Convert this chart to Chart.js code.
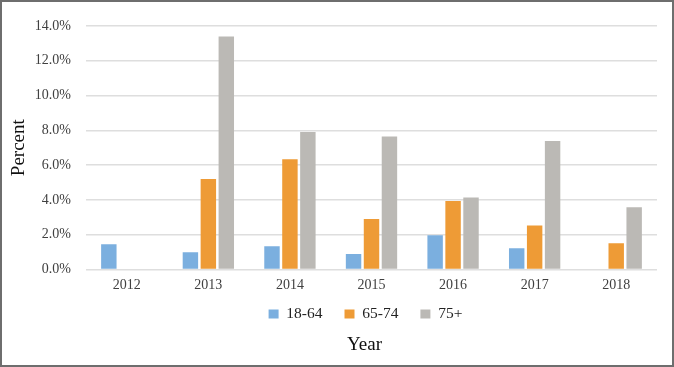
<!DOCTYPE html>
<html>
<head>
<meta charset="utf-8">
<script src="https://cdn.jsdelivr.net/npm/chart.js@4/dist/chart.umd.min.js"></script>
<style>
    body { margin: 0; background: #fff; }
    #frame {
        position: absolute; left: 0; top: 0;
        width: 674px; height: 367px;
        box-sizing: border-box;
        border: 2px solid #6e6e6e;
        background: #fff;
    }
</style>
</head>
<body>
<div id="frame"><canvas id="chart"></canvas></div>
<script>
const years = ['2012', '2013', '2014', '2015', '2016', '2017', '2018'];
const ages18to64 = [1.45, 0.99, 1.33, 0.89, 1.97, 1.22, 0];
const ages65to74 = [0, 5.2, 6.33, 2.9, 3.94, 2.53, 1.5];
const ages75plus = [0, 13.4, 7.9, 7.65, 4.13, 7.38, 3.58];
const yTicks = [0, 2, 4, 6, 8, 10, 12, 14];

const serif = "'Liberation Serif', 'Times New Roman', serif";

// legend padding is both the gap between items and above them;
// pull the legend up a bit so it sits closer to the year labels,
// and shift legend + "Year" slightly left like in the original
const legendNudge = {
    id: 'legendNudge',
    afterLayout(chart) {
        chart.legend.top -= 18;
        chart.legend.left -= 12;
        if (chart.titleBlock) chart.titleBlock.left -= 14;
    }
};

document.addEventListener('DOMContentLoaded', function() {
    const ctx = document.getElementById('chart').getContext('2d');

    new Chart(ctx, {
        type: 'bar',
        data: {
            labels: years,
            datasets: [
                { label: '18-64', data: ages18to64, backgroundColor: '#7bafdf' },
                { label: '65-74', data: ages65to74, backgroundColor: '#ee9b36' },
                { label: '75+', data: ages75plus, backgroundColor: '#bbb9b5' }
            ]
        },
        plugins: [legendNudge],
        options: {
            responsive: true,
            maintainAspectRatio: false,
            animation: false,
            datasets: {
                bar: { categoryPercentage: 0.66, barPercentage: 0.86 }
            },
            layout: {
                padding: { left: 6, right: 15, top: 24, bottom: 9 }
            },
            plugins: {
                tooltip: { enabled: false },
                legend: {
                    position: 'bottom',
                    fullSize: false,
                    maxHeight: 29,
                    labels: {
                        font: { family: serif, size: 15.5 },
                        color: '#222',
                        boxWidth: 10,
                        boxHeight: 9,
                        padding: 22
                    }
                },
                title: {
                    display: true,
                    position: 'bottom',
                    fullSize: false,
                    text: 'Year',
                    color: '#111',
                    font: { family: serif, size: 19, weight: 'normal' },
                    padding: { top: 2, bottom: 0 }
                }
            },
            scales: {
                x: {
                    grid: { display: false, drawTicks: false },
                    border: { display: false },
                    ticks: {
                        font: { family: serif, size: 14 },
                        color: '#404040',
                        padding: 8
                    }
                },
                y: {
                    min: 0,
                    max: 14,
                    afterBuildTicks: axis => {
                        axis.ticks = yTicks.map(v => ({ value: v }));
                    },
                    afterFit: axis => { axis.width = 78; },
                    grid: { color: '#dedede', lineWidth: 1.5, drawTicks: false },
                    border: { display: false },
                    ticks: {
                        font: { family: serif, size: 14 },
                        color: '#404040',
                        padding: 15,
                        callback: v => v.toFixed(1) + '%'
                    },
                    title: {
                        display: true,
                        text: 'Percent',
                        color: '#111',
                        font: { family: serif, size: 19 },
                        padding: { top: 0, bottom: 0 }
                    }
                }
            }
        }
    });
});
</script>
</body>
</html>
